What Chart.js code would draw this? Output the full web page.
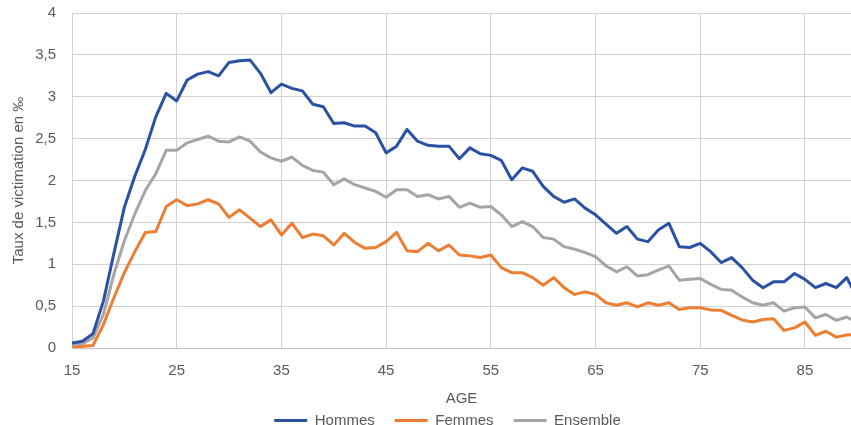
<!DOCTYPE html>
<html>
<head>
<meta charset="utf-8">
<script src="https://cdn.jsdelivr.net/npm/chart.js@4/dist/chart.umd.min.js"></script>
<style>
  html, body { margin: 0; padding: 0; background: #ffffff; overflow: hidden; }
  #wrap { width: 851px; height: 438px; }
</style>
</head>
<body>
<div id="wrap"><canvas id="c" width="851" height="438"></canvas></div>
<script>
const ages = [15,16,17,18,19,20,21,22,23,24,25,26,27,28,29,30,31,32,33,34,35,36,37,38,39,40,41,42,43,44,45,46,47,48,49,50,51,52,53,54,55,56,57,58,59,60,61,62,63,64,65,66,67,68,69,70,71,72,73,74,75,76,77,78,79,80,81,82,83,84,85,86,87,88,89,90];

const hommes = [0.06,0.08,0.17,0.56,1.13,1.68,2.05,2.37,2.76,3.04,2.95,3.20,3.27,3.30,3.25,3.41,3.43,3.44,3.28,3.05,3.15,3.10,3.07,2.91,2.88,2.68,2.69,2.65,2.65,2.57,2.33,2.41,2.61,2.47,2.42,2.41,2.41,2.26,2.39,2.32,2.30,2.24,2.01,2.15,2.11,1.93,1.81,1.74,1.78,1.67,1.59,1.48,1.37,1.45,1.30,1.27,1.41,1.49,1.21,1.20,1.25,1.15,1.02,1.08,0.96,0.81,0.72,0.79,0.79,0.89,0.82,0.72,0.77,0.72,0.84,0.60];

const femmes = [0.00,0.02,0.03,0.28,0.60,0.90,1.15,1.38,1.39,1.69,1.77,1.70,1.72,1.77,1.72,1.56,1.65,1.55,1.45,1.53,1.35,1.49,1.32,1.36,1.34,1.23,1.37,1.26,1.19,1.20,1.27,1.38,1.16,1.15,1.25,1.16,1.23,1.11,1.10,1.08,1.11,0.96,0.90,0.90,0.84,0.75,0.84,0.72,0.64,0.67,0.64,0.54,0.51,0.54,0.49,0.54,0.51,0.54,0.46,0.48,0.48,0.455,0.45,0.39,0.335,0.31,0.34,0.35,0.21,0.24,0.31,0.15,0.20,0.13,0.155,0.16];

const ensemble = [0.03,0.05,0.12,0.40,0.88,1.28,1.60,1.88,2.08,2.36,2.36,2.45,2.49,2.53,2.47,2.46,2.52,2.47,2.34,2.27,2.23,2.28,2.18,2.12,2.10,1.95,2.02,1.95,1.91,1.87,1.80,1.89,1.89,1.81,1.83,1.78,1.81,1.68,1.73,1.68,1.69,1.59,1.45,1.51,1.45,1.32,1.30,1.21,1.18,1.14,1.09,0.98,0.91,0.97,0.86,0.875,0.93,0.98,0.81,0.82,0.83,0.76,0.70,0.69,0.61,0.54,0.51,0.54,0.44,0.48,0.49,0.36,0.40,0.33,0.37,0.30];

const xTicks = [15,25,35,45,55,65,75,85];
const yTicks = [0,0.5,1,1.5,2,2.5,3,3.5,4];

const seriesNames = ['Hommes','Femmes','Ensemble'];
const seriesColors = ['#2A51A3','#ED7D31','#A5A5A5'];
const seriesValues = [hommes, femmes, ensemble];

const FONT = "'Liberation Sans', Arial, sans-serif";
const TXT = '#595959';

const datasets = seriesValues.map((vals, i) => ({
  label: seriesNames[i],
  data: ages.map((a, k) => ({x: a, y: vals[k]})),
  borderColor: seriesColors[i],
  backgroundColor: seriesColors[i],
  borderWidth: 3,
  pointRadius: 0,
  tension: 0,
  borderJoinStyle: 'round',
  borderCapStyle: 'round'
}));

const legendShift = {
  id: 'legendShift',
  afterLayout(chart) {
    const lg = chart.legend;
    if (lg) { lg.left -= 14; lg.right -= 14; }
  }
};

new Chart(document.getElementById('c'), {
  type: 'line',
  data: { datasets },
  plugins: [legendShift],
  options: {
    responsive: false,
    animation: false,
    layout: { padding: { top: 13, right: 0, left: 0, bottom: 0 } },
    plugins: {
      tooltip: { enabled: false },
      title: { display: false },
      legend: {
        position: 'bottom',
        fullSize: false,
        labels: {
          font: { family: FONT, size: 15 },
          color: TXT,
          boxWidth: 33,
          boxHeight: 3,
          padding: 20,
          generateLabels: (chart) => {
            const items = Chart.defaults.plugins.legend.labels.generateLabels(chart);
            items.forEach(it => { it.lineWidth = 0; it.fillStyle = it.strokeStyle; });
            return items;
          }
        }
      }
    },
    scales: {
      x: {
        type: 'linear',
        min: 15,
        max: 89.4,
        afterBuildTicks: (scale) => { scale.ticks = xTicks.map(v => ({ value: v })); },
        afterFit: (scale) => { scale.height = 45; },
        grid: { color: '#D0D0D0', lineWidth: 1, drawTicks: false },
        border: { color: '#BFBFBF', width: 1 },
        ticks: {
          font: { family: FONT, size: 15 },
          color: TXT,
          padding: 14,
          maxRotation: 0,
          autoSkip: false
        },
        title: {
          display: true,
          text: 'AGE',
          font: { family: FONT, size: 15 },
          color: TXT,
          padding: { top: 0, bottom: -15 }
        }
      },
      y: {
        min: 0,
        max: 4,
        afterBuildTicks: (scale) => { scale.ticks = yTicks.map(v => ({ value: v })); },
        afterFit: (scale) => { scale.width = 72; },
        grid: { color: '#D0D0D0', lineWidth: 1, drawTicks: true, tickLength: 16, tickColor: 'rgba(0,0,0,0)' },
        border: { color: '#D0D0D0', width: 1 },
        ticks: {
          font: { family: FONT, size: 15 },
          color: TXT,
          padding: 0,
          callback: (v) => String(v).replace('.', ',')
        },
        title: {
          display: true,
          text: 'Taux de victimation en ‰',
          font: { family: FONT, size: 15 },
          color: TXT,
          padding: { top: 10, bottom: 0 }
        }
      }
    }
  }
});
</script>
</body>
</html>
